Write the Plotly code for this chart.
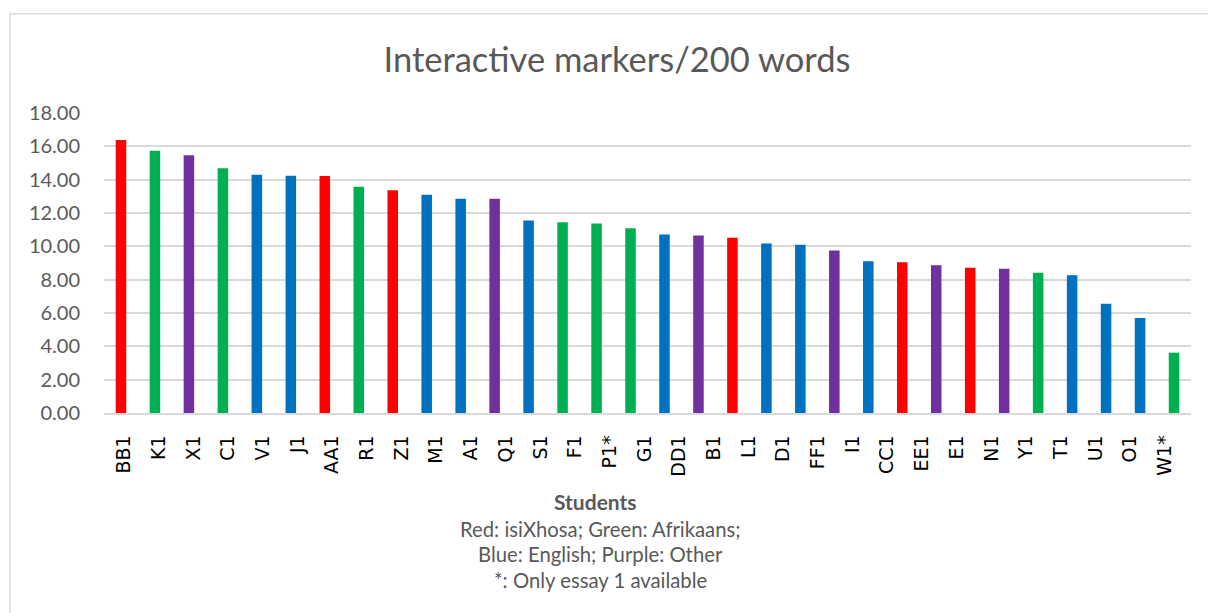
import plotly.graph_objects as go

# Bar values (32 bars as drawn) and their language-group colours
values = [16.38, 15.74, 15.46, 14.68, 14.30, 14.24, 14.22, 13.58, 13.36, 13.10, 12.86,
          12.85, 11.55, 11.45, 11.37, 11.09, 10.71, 10.65, 10.51, 10.17, 10.09, 9.75,
          9.11, 9.05, 8.86, 8.72, 8.66, 8.42, 8.26, 6.56, 5.70, 3.62]
groups = ["red", "green", "purple", "green", "blue", "blue", "red", "green", "red", "blue", "blue",
          "purple", "blue", "green", "green", "green", "blue", "purple", "red", "blue", "blue", "purple",
          "blue", "red", "purple", "red", "purple", "green", "blue", "blue", "blue", "green"]
# Category tick labels (31 labels, as printed under the axis)
students = ["BB1", "K1", "X1", "C1", "V1", "J1", "AA1", "R1", "Z1", "M1", "A1", "Q1", "S1", "F1",
            "P1*", "G1", "DD1", "B1", "L1", "D1", "FF1", "I1", "CC1", "EE1", "E1", "N1", "Y1",
            "T1", "U1", "O1", "W1*"]
y_ticks = [0, 2, 4, 6, 8, 10, 12, 14, 16, 18]
axis_title = "Students"
note_lines = ["Red: isiXhosa; Green: Afrikaans;", "Blue: English; Purple: Other",
              "*: Only essay 1 available"]

palette = {"red": "#FF0000", "green": "#00B050", "purple": "#7030A0", "blue": "#0070C0"}
bar_colors = [palette[g] for g in groups]
positions = list(range(len(values)))

# the 31 labels are spread evenly across the axis (slightly wider spacing than the bars)
n_lab = len(students)
label_pos = [0.09 + i * (30.64 / (n_lab - 1)) for i in range(n_lab)]

W, H = 1208, 613
L, R, T, B = 104, 17, 112.5, 200
pw, ph = W - L - R, H - T - B


def px(x):
    return (x - L) / pw


def py(y):
    return (H - B - y) / ph


grey = "#595959"
font_family = "Lato"

fig = go.Figure()
fig.add_trace(go.Bar(
    x=positions, y=values, marker=dict(color=bar_colors, line=dict(width=0)),
    width=0.31, showlegend=False, hoverinfo="y"))

fig.update_layout(
    width=W, height=H,
    margin=dict(l=L, r=R, t=T, b=B, pad=0),
    paper_bgcolor="white", plot_bgcolor="white",
    font=dict(family=font_family, color=grey, size=20),
    title=dict(text="Interactive markers/200 words", x=617 / W, xanchor="center",
               y=1 - 60 / H, yanchor="middle", xref="container", yref="container",
               font=dict(family=font_family, size=34.5, color=grey, weight=400)),
    xaxis=dict(range=[-0.5, len(values) - 0.5], tickmode="array", tickvals=label_pos,
               ticktext=students, tickangle=-90, showgrid=False, zeroline=False,
               showline=True, linecolor="#D9D9D9", linewidth=1.5, ticks="",
               ticklabelstandoff=13, tickfont=dict(family="DejaVu Sans", size=19, color="#000000")),
    yaxis=dict(range=[0, 18], tickmode="array", tickvals=y_ticks, tickformat=".2f",
               showgrid=True, gridcolor="#D9D9D9", gridwidth=1.5, zeroline=False,
               showline=False, ticks="", ticklabelstandoff=23,
               tickfont=dict(family=font_family, size=20, color=grey)),
    bargap=0.69,
)

fig.add_annotation(
    text="<b>" + axis_title + "</b>", xref="paper", yref="paper", x=px(595), y=py(502),
    xanchor="center", yanchor="middle", showarrow=False,
    font=dict(family=font_family, size=21, color=grey))
for k, line in enumerate(note_lines):
    fig.add_annotation(
        text=line, xref="paper", yref="paper", x=px(600), y=py(529 + k * 25.5),
        xanchor="center", yanchor="middle", showarrow=False,
        font=dict(family=font_family, size=20.3, color=grey))

fig.add_shape(type="rect", xref="paper", yref="paper",
              x0=px(10), x1=px(1220), y0=py(625), y1=py(13),
              line=dict(color="#D9D9D9", width=1.5), fillcolor="rgba(0,0,0,0)", layer="below")

fig.write_html("out.html")
